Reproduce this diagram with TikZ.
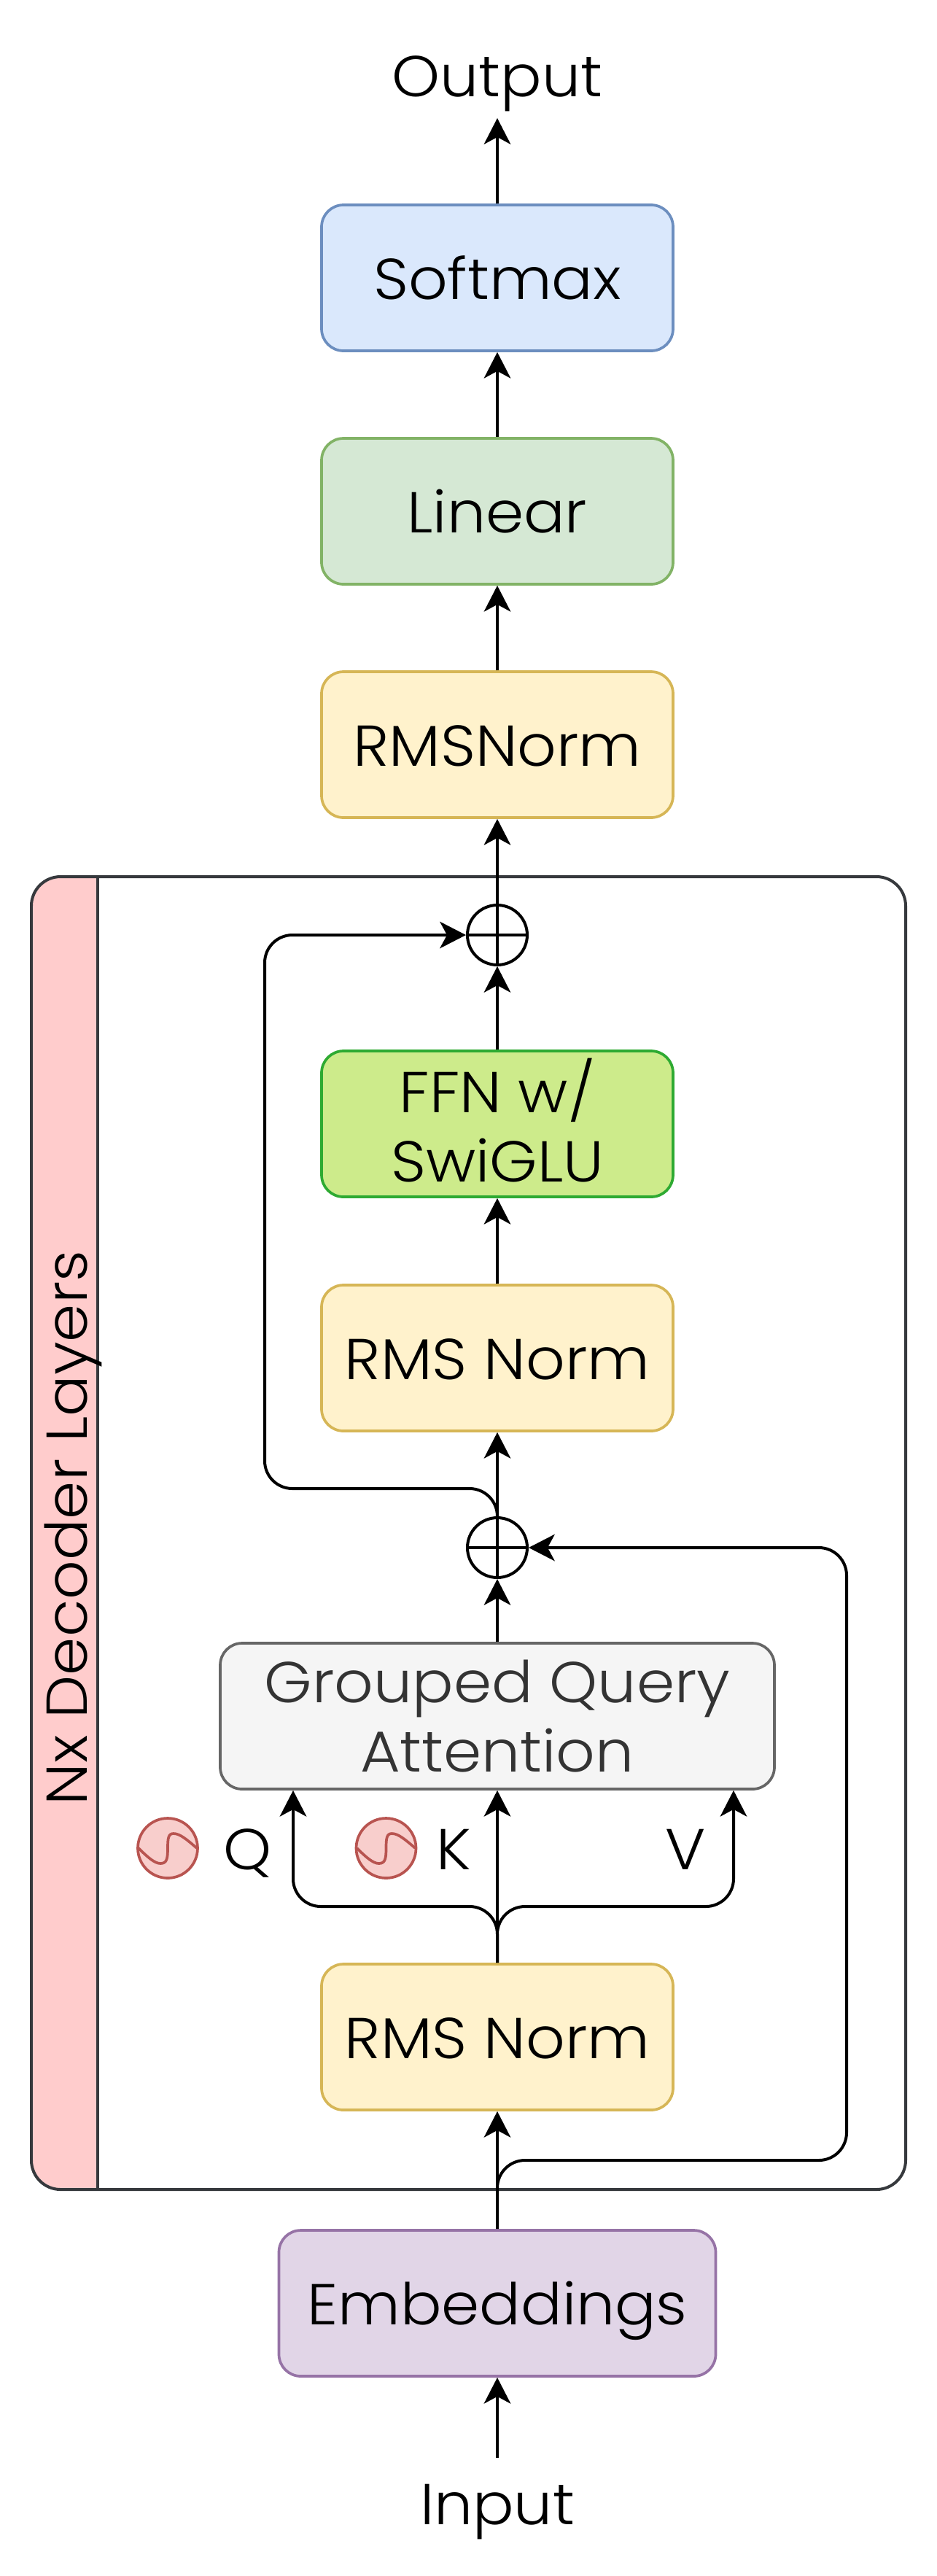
\documentclass[tikz,border=0pt]{standalone}
\usepackage{fontspec}
\setmainfont{Poppins}[UprightFont=* Light, FakeStretch=1.06]
\usepackage{xcolor}
\usetikzlibrary{arrows.meta}

\definecolor{softfill}{HTML}{DAE8FC}  \definecolor{softline}{HTML}{6C8EBF}
\definecolor{linfill}{HTML}{D5E8D4}   \definecolor{linline}{HTML}{82B366}
\definecolor{normfill}{HTML}{FFF2CC}  \definecolor{normline}{HTML}{D6B656}
\definecolor{ffnfill}{HTML}{CDEB8B}   \definecolor{ffnline}{HTML}{2EAA32}
\definecolor{attfill}{HTML}{F5F5F5}   \definecolor{attline}{HTML}{666666}
\definecolor{atttext}{HTML}{333333}
\definecolor{embfill}{HTML}{E1D5E7}   \definecolor{embline}{HTML}{9673A6}
\definecolor{lanefill}{HTML}{FFCCCC}  \definecolor{laneline}{HTML}{36393D}
\definecolor{sinefill}{HTML}{F8CECC}  \definecolor{sineline}{HTML}{B85450}

\tikzset{
    label text/.style={font=\fontsize{22.5}{27}\selectfont},
    block/.style={label text, draw, rounded corners=.3cm, line width=.037cm, align=center,
        minimum width=4.82cm, minimum height=2cm, inner sep=0pt},
    one line/.style={text height=16.6pt, text depth=0pt},
    flow/.style={line width=.04cm, -{Stealth[length=.36cm, width=.37cm, inset=.1cm, line width=0pt]}},
    bend flow/.style={flow, rounded corners=.38cm},
    sum/.style={circle, draw, line width=.04cm, minimum size=.82cm, inner sep=0pt,
        path picture={
            \draw [line width=.04cm] (path picture bounding box.west) -- (path picture bounding box.east);
            \draw [line width=.04cm] (path picture bounding box.north) -- (path picture bounding box.south);
        }},
    sine/.style={circle, draw=sineline, fill=sinefill, line width=.037cm, minimum size=.82cm, inner sep=0pt,
        path picture={
            \draw [sineline, line width=.037cm, shift={(path picture bounding box.center)}]
                (-.40,0) .. controls (-.28,-.12) and (-.18,-.21) .. (-.10,-.21)
                .. controls (-.01,-.21) and (0,-.14) .. (0,0)
                .. controls (0,.14) and (.01,.20) .. (.08,.20)
                .. controls (.17,.20) and (.27,.11) .. (.40,0);
        }},
}

\begin{document}
\begin{tikzpicture}
    \useasboundingbox (0,0) rectangle (12.84,-35.32);

    \fill [lanefill] (1.335,-12.02) [rounded corners=.4cm] -- (.43,-12.02) -- (.43,-30.02) [sharp corners] -- (1.335,-30.02) -- cycle;
    \node [draw=laneline, line width=.04cm, rounded corners=.4cm, minimum width=11.99cm, minimum height=18cm, inner sep=0pt] (layers) at (6.425,-21.02) {};
    \draw [laneline, line width=.04cm] (1.335,-12.02) coordinate (lanetop) -- (1.335,-30.02) coordinate (lanebot);
    \node [label text, rotate=90, one line] (lanename) at (.9,-20.95) {Nx Decoder Layers};

    \node [label text, one line] (output) at (6.82,-1.03) {Output};
    \node [block, one line, fill=softfill, draw=softline] (softmax) at (6.82,-3.81) {Softmax};
    \node [block, one line, fill=linfill, draw=linline] (linear) at (6.82,-7.01) {Linear};
    \node [block, one line, fill=normfill, draw=normline] (rmstop) at (6.82,-10.21) {RMSNorm};
    \node [sum] (sumtop) at (6.82,-12.82) {};
    \node [block, fill=ffnfill, draw=ffnline] (ffn) at (6.82,-15.41) {FFN w/\\SwiGLU\rule[-2.8pt]{0pt}{0pt}};
    \node [block, one line, fill=normfill, draw=normline] (rmsmid) at (6.82,-18.62) {RMS Norm};
    \node [sum] (summid) at (6.82,-21.22) {};
    \node [block, fill=attfill, draw=attline, text=atttext, minimum width=7.6cm] (gqa) at (6.82,-23.53) {Grouped Query\\Attention};
    \node [block, one line, fill=normfill, draw=normline] (rmslow) at (6.82,-27.93) {RMS Norm};
    \node [block, one line, fill=embfill, draw=embline, minimum width=5.99cm] (embed) at (6.82,-31.58) {Embeddings};
    \node [label text, one line] (input) at (6.82,-34.32) {Input};

    \node [sine] (sineq) at (2.30,-25.34) {};
    \node [sine] (sinek) at (5.295,-25.34) {};
    \node [label text, one line] (qname) at (3.40,-25.34) {Q};
    \node [label text, one line] (kname) at (6.22,-25.34) {K};
    \node [label text, one line] (vname) at (9.40,-25.34) {V};

    \coordinate (outtip) at (6.82,-1.62);
    \coordinate (intail) at (6.82,-33.70);
    \coordinate (qbend) at (4.02,-26.14);
    \coordinate (vbend) at (10.06,-26.14);
    \coordinate (skipmid) at (3.63,-20.41);
    \coordinate (skiplow) at (11.61,-29.62);

    \draw [flow] (intail) -- (embed.south);
    \draw [flow] (embed.north) -- (rmslow.south);
    \draw [bend flow] (embed.north) -- (embed.north |- skiplow) -- (skiplow) -- (skiplow |- summid) -- (summid.east);
    \draw [flow] (rmslow.north) -- (gqa.south);
    \draw [bend flow] (rmslow.north) -- (rmslow.north |- qbend) -- (qbend) -- (qbend |- gqa.south);
    \draw [bend flow] (rmslow.north) -- (rmslow.north |- vbend) -- (vbend) -- (vbend |- gqa.south);
    \draw [flow] (gqa.north) -- (summid.south);
    \draw [flow] (summid.north) -- (rmsmid.south);
    \draw [bend flow] (summid.north) -- (summid.north |- skipmid) -- (skipmid) -- (skipmid |- sumtop) -- (sumtop.west);
    \draw [flow] (rmsmid.north) -- (ffn.south);
    \draw [flow] (ffn.north) -- (sumtop.south);
    \draw [flow] (sumtop.north) -- (rmstop.south);
    \draw [flow] (rmstop.north) -- (linear.south);
    \draw [flow] (linear.north) -- (softmax.south);
    \draw [flow] (softmax.north) -- (outtip);
\end{tikzpicture}
\end{document}
